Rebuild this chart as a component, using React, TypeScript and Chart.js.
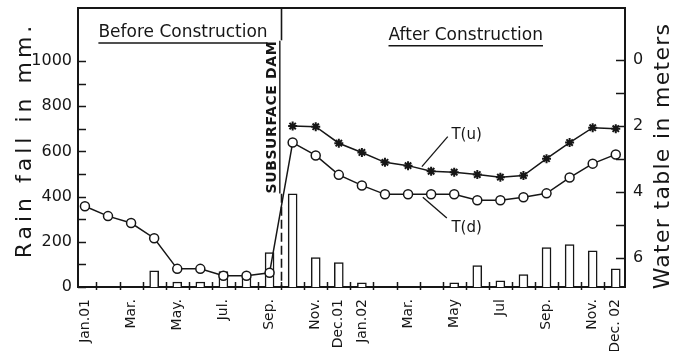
import React, { useEffect, useRef } from 'react';
import { Chart, registerables } from 'chart.js';

Chart.register(...registerables);

// ---- data ----
const months = [
  'Jan.01', 'Feb.01', 'Mar.01', 'Apr.01', 'May.01', 'Jun.01', 'Jul.01', 'Aug.01', 'Sep.01', 'Oct.01', 'Nov.01', 'Dec.01',
  'Jan.02', 'Feb.02', 'Mar.02', 'Apr.02', 'May.02', 'Jun.02', 'Jul.02', 'Aug.02', 'Sep.02', 'Oct.02', 'Nov.02', 'Dec.02',
];
const tickMonths = [0, 2, 4, 6, 8, 10, 11, 12, 14, 16, 18, 20, 22, 23];
const tickLabels = ['Jan.01', 'Mar.', 'May.', 'Jul.', 'Sep.', 'Nov.', 'Dec.01', 'Jan.02', 'Mar.', 'May', 'Jul', 'Sep.', 'Nov.', 'Dec. 02'];

// monthly rainfall (mm)
const rainfall = [0, 0, 0, 72, 22, 22, 68, 45, 152, 412, 130, 108, 18, 0, 0, 0, 18, 95, 27, 55, 175, 188, 160, 80];
// water table depth T(d) (m)
const waterTd = [4.43, 4.73, 4.94, 5.4, 6.33, 6.33, 6.54, 6.54, 6.45, 2.5, 2.89, 3.48, 3.8, 4.07, 4.07, 4.07, 4.07, 4.25, 4.25, 4.16, 4.04, 3.56, 3.14, 2.86];
// water table depth T(u) (m)
const waterTu: (number | null)[] = [null, null, null, null, null, null, null, null, null, 2.0, 2.02, 2.52, 2.8, 3.1, 3.2, 3.37, 3.4, 3.47, 3.55, 3.5, 2.99, 2.5, 2.05, 2.08];

const rainTicks = [0, 100, 200, 300, 400, 500, 600, 700, 800, 900, 1000];
const rainTickLabels = ['0', '', '200', '', '400', '', '600', '', '800', '', '1000'];
const depthTicks = [0, 1, 2, 3, 4, 5, 6];
const depthTickLabels = ['0', '', '2', '', '4', '', '6'];

const sectionTitles = ['Before Construction', 'After Construction'];
const damLabel = 'SUBSURFACE DAM';
const leftTitle = 'Rain fall in mm.';
const rightTitle = 'Water table in meters';

const INK = '#161616';
const FAMILY = '"DejaVu Sans", "Liberation Sans", sans-serif';

const toPoints = (arr: (number | null)[]) =>
  arr.map((v, i) => (v === null ? null : { x: i, y: v })).filter((p) => p !== null) as { x: number; y: number }[];

const decorPlugin = {
  id: 'decor',
  afterDraw(chart: any) {
    const { ctx, chartArea, scales } = chart;
    const x = scales.x;
    const y = scales.y;
    const y1 = scales.y1;
    const px = (v: number) => x.getPixelForValue(v);
    const py = (v: number) => y1.getPixelForValue(v);
    ctx.save();
    ctx.strokeStyle = INK;
    ctx.fillStyle = INK;
    ctx.lineCap = 'butt';

    // top frame line
    ctx.lineWidth = 2;
    ctx.beginPath();
    ctx.moveTo(chartArea.left - 1, chartArea.top);
    ctx.lineTo(chartArea.right + 1, chartArea.top);
    ctx.stroke();

    // inward ticks left
    ctx.lineWidth = 1.5;
    y.ticks.forEach((t: any) => {
      const yy = Math.round(y.getPixelForValue(t.value)) + 0.5;
      ctx.beginPath();
      ctx.moveTo(chartArea.left, yy);
      ctx.lineTo(chartArea.left + 8, yy);
      ctx.stroke();
    });
    // inward ticks right
    y1.ticks.forEach((t: any) => {
      const yy = Math.round(y1.getPixelForValue(t.value)) + 0.5;
      ctx.beginPath();
      ctx.moveTo(chartArea.right - 9, yy);
      ctx.lineTo(chartArea.right, yy);
      ctx.stroke();
    });
    // month boundary ticks on x axis
    for (let i = 0; i < months.length - 1; i++) {
      const xx = Math.round(px(i + 0.5)) + 0.5;
      ctx.beginPath();
      ctx.moveTo(xx, chartArea.bottom - 5);
      ctx.lineTo(xx, chartArea.bottom + 3);
      ctx.stroke();
    }

    // section titles with underline
    ctx.font = `17px ${FAMILY}`;
    ctx.textAlign = 'center';
    ctx.textBaseline = 'middle';
    const secX = [4.25, 16.5];
    const secY = [-0.82, -0.74];
    sectionTitles.forEach((s, k) => {
      const cx = px(secX[k]);
      const cy = py(secY[k]);
      ctx.fillText(s, cx, cy);
      const w = ctx.measureText(s).width;
      ctx.lineWidth = 1.5;
      ctx.beginPath();
      ctx.moveTo(cx - w / 2, cy + 10);
      ctx.lineTo(cx + w / 2, cy + 10);
      ctx.stroke();
    });

    // subsurface dam marker
    const damX = Math.round(px(8.5)) + 0.5;
    ctx.lineWidth = 1.6;
    ctx.beginPath();
    ctx.moveTo(damX, chartArea.top);
    ctx.lineTo(damX, py(-0.6));
    ctx.stroke();
    ctx.setLineDash([9, 4]);
    ctx.beginPath();
    ctx.moveTo(damX, py(4.05));
    ctx.lineTo(damX, chartArea.bottom);
    ctx.stroke();
    ctx.setLineDash([]);

    ctx.save();
    ctx.translate(px(8.12), py(1.73));
    ctx.rotate(-Math.PI / 2);
    ctx.font = `bold 14px ${FAMILY}`;
    (ctx as any).letterSpacing = '0.6px';
    ctx.textAlign = 'center';
    ctx.textBaseline = 'middle';
    ctx.fillText(damLabel, 0, 0);
    const dw = ctx.measureText(damLabel).width;
    ctx.lineWidth = 1.4;
    ctx.beginPath();
    ctx.moveTo(-dw / 2, 7.5);
    ctx.lineTo(dw / 2, 7.5);
    ctx.stroke();
    ctx.restore();

    // series labels with leader lines
    const ds = chart.data.datasets;
    ctx.font = `15px ${FAMILY}`;
    ctx.textAlign = 'left';
    ctx.textBaseline = 'middle';
    ctx.lineWidth = 1.3;
    ctx.beginPath();
    ctx.moveTo(px(14.6), py(3.23));
    ctx.lineTo(px(15.72), py(2.32));
    ctx.stroke();
    ctx.fillText(ds[0].label, px(15.88), py(2.26));
    ctx.beginPath();
    ctx.moveTo(px(14.64), py(4.16));
    ctx.lineTo(px(15.68), py(4.79));
    ctx.stroke();
    ctx.fillText(ds[1].label, px(15.88), py(5.1));

    // axis titles
    ctx.font = `22px ${FAMILY}`;
    ctx.textAlign = 'center';
    ctx.textBaseline = 'middle';
    ctx.save();
    ctx.translate(25, 140);
    ctx.rotate(-Math.PI / 2);
    (ctx as any).letterSpacing = '4px';
    ctx.fillText(leftTitle, 0, 0);
    ctx.restore();
    ctx.save();
    ctx.translate(663, 156);
    ctx.rotate(-Math.PI / 2);
    (ctx as any).letterSpacing = '1.3px';
    ctx.fillText(rightTitle, 0, 0);
    ctx.restore();

    ctx.restore();
  },
};

const zeroPad = (s: any) => {
  s.paddingTop = 0;
  s.paddingBottom = 0;
  s.paddingLeft = 0;
  s.paddingRight = 0;
};

export default function App() {
  const ref = useRef<HTMLCanvasElement>(null);
  useEffect(() => {
    document.body.style.margin = '0';
    const canvas = ref.current!;
    const tickFont = { family: FAMILY, size: 16 };
    const chart = new Chart(canvas, {
      type: 'line',
      data: {
        datasets: [
          {
            type: 'line',
            label: 'T(u)',
            data: toPoints(waterTu),
            yAxisID: 'y1',
            borderColor: INK,
            borderWidth: 1.5,
            pointStyle: 'star',
            pointRadius: 4.5,
            pointBorderWidth: 2,
            pointBorderColor: INK,
            pointBackgroundColor: INK,
            tension: 0,
            order: 1,
          },
          {
            type: 'line',
            label: 'T(d)',
            data: toPoints(waterTd),
            yAxisID: 'y1',
            borderColor: INK,
            borderWidth: 1.5,
            pointStyle: 'circle',
            pointRadius: 4.5,
            pointBorderWidth: 1.5,
            pointBorderColor: INK,
            pointBackgroundColor: '#ffffff',
            tension: 0,
            order: 2,
          },
          {
            type: 'bar',
            label: 'Rainfall',
            data: toPoints(rainfall),
            yAxisID: 'y',
            backgroundColor: '#ffffff',
            borderColor: INK,
            borderWidth: 1.5,
            barThickness: 9,
            order: 3,
          },
        ] as any,
      },
      options: {
        responsive: false,
        animation: false,
        events: [],
        layout: { padding: { top: 8, left: 0, right: 0, bottom: 0 } },
        plugins: { legend: { display: false }, tooltip: { enabled: false } },
        scales: {
          x: {
            type: 'linear',
            position: 'bottom',
            min: -0.3,
            max: 23.4,
            bounds: 'data',
            offset: false,
            grid: { display: false, drawTicks: false },
            border: { display: true, color: INK, width: 2 },
            afterBuildTicks: (s: any) => {
              s.ticks = tickMonths.map((v) => ({ value: v }));
            },
            afterFit: (s: any) => {
              s.height = 64;
              zeroPad(s);
            },
            ticks: {
              autoSkip: false,
              minRotation: 90,
              maxRotation: 90,
              padding: 12,
              color: INK,
              font: { family: FAMILY, size: 14 },
              callback: (v: any) => {
                const k = tickMonths.indexOf(Number(v));
                return k >= 0 ? tickLabels[k] : '';
              },
            },
          },
          y: {
            type: 'linear',
            position: 'left',
            min: 0,
            max: 1235,
            grid: { display: false, drawTicks: false },
            border: { display: true, color: INK, width: 2 },
            afterBuildTicks: (s: any) => {
              s.ticks = rainTicks.map((v) => ({ value: v }));
            },
            afterFit: (s: any) => {
              s.width = 78;
              zeroPad(s);
            },
            ticks: {
              padding: 6,
              color: INK,
              font: tickFont,
              callback: (v: any) => {
                const k = rainTicks.indexOf(Number(v));
                return k >= 0 ? rainTickLabels[k] : '';
              },
            },
          },
          y1: {
            type: 'linear',
            position: 'right',
            reverse: true,
            min: -1.58,
            max: 6.88,
            grid: { display: false, drawTicks: false },
            border: { display: true, color: INK, width: 2 },
            afterBuildTicks: (s: any) => {
              s.ticks = depthTicks.map((v) => ({ value: v }));
            },
            afterFit: (s: any) => {
              s.width = 52;
              zeroPad(s);
            },
            ticks: {
              padding: 8,
              color: INK,
              font: tickFont,
              callback: (v: any) => {
                const k = depthTicks.indexOf(Number(v));
                return k >= 0 ? depthTickLabels[k] : '';
              },
            },
          },
        },
      } as any,
      plugins: [decorPlugin],
    });
    return () => chart.destroy();
  }, []);

  return (
    <div style={{ position: 'absolute', left: 0, top: 0, width: 677, height: 351, background: '#fff' }}>
      <canvas ref={ref} width={677} height={351} style={{ display: 'block' }} />
    </div>
  );
}
